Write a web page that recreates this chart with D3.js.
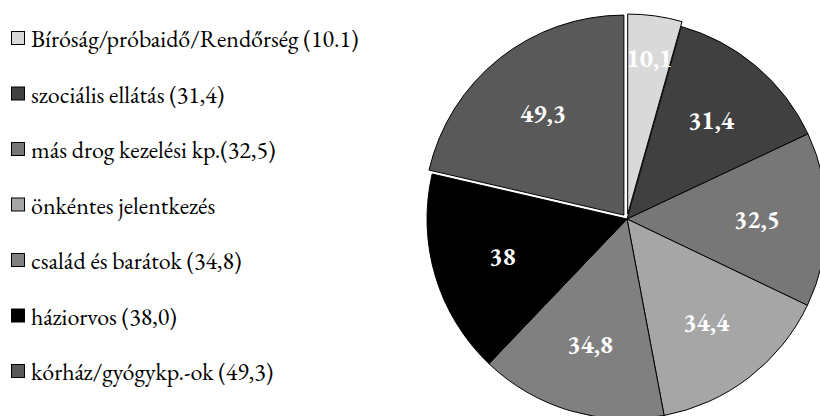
<!DOCTYPE html>
<html>
<head>
<meta charset="utf-8">
<script src="https://cdn.jsdelivr.net/npm/d3@7"></script>
<style>
  body { margin: 0; background: #fff; }
  svg { display: block; }
</style>
</head>
<body>
<svg id="chart"></svg>
<script>
const width = 820;
const height = 416;
const fontFace = "'EB Garamond'";

// slices, clockwise from 12 o'clock
const sliceLabels = ['10,1', '31,4', '32,5', '34,4', '34,8', '38', '49,3'];
const sliceValues = [10.1, 31.4, 32.5, 34.4, 34.8, 38.0, 49.3];
const sliceColors = ['#d9d9d9', '#404040', '#777777', '#a6a6a6', '#808080', '#000000', '#595959'];
const exploded = [true, false, false, false, false, false, true];

// legend, top to bottom
const legendNames = [
    'Bíróság/próbaidő/Rendőrség (10.1)',
    'szociális ellátás (31,4)',
    'más drog kezelési kp.(32,5)',
    'önkéntes jelentkezés',
    'család és barátok (34,8)',
    'háziorvos (38,0)',
    'kórház/gyógykp.-ok (49,3)'
];

const cx = 627, cy = 219, radius = 200;

const svg = d3.select('#chart')
    .attr('width', width)
    .attr('height', height);

const pieData = d3.pie().sort(null)(sliceValues)
    .map((d, i) => Object.assign(d, {i: i}));

const arc = d3.arc().innerRadius(0).outerRadius(radius);
const pieG = svg.append('g').attr('transform', `translate(${cx},${cy})`);

function offset(d, r) {
    const a = (d.startAngle + d.endAngle) / 2;
    return [Math.sin(a) * r, -Math.cos(a) * r];
}

pieG.selectAll('path')
    .data(pieData)
    .enter()
    .append('path')
    .attr('d', arc)
    .attr('transform', d => {
        const o = exploded[d.i] ? offset(d, 5) : [0, 0];
        return `translate(${o[0]},${o[1]})`;
    })
    .attr('fill', d => sliceColors[d.i])
    .attr('stroke', '#000')
    .attr('stroke-width', 1);

const labelR = d => (d.value < 15 ? 158 : 130) + (exploded[d.i] ? 5 : 0);

pieG.selectAll('text')
    .data(pieData)
    .enter()
    .append('text')
    .attr('x', d => offset(d, labelR(d))[0])
    .attr('y', d => offset(d, labelR(d))[1])
    .attr('text-anchor', 'middle')
    .attr('dominant-baseline', 'central')
    .style('font-family', fontFace)
    .style('font-feature-settings', '"lnum" 1')
    .style('font-weight', 'bold')
    .style('font-size', '25px')
    .attr('fill', '#fff')
    .text(d => sliceLabels[d.i]);

// legend
const legend = svg.append('g');
const rowY = d3.scalePoint().domain(d3.range(legendNames.length)).range([47, 380]);

const rows = legend.selectAll('g')
    .data(legendNames)
    .enter()
    .append('g')
    .attr('transform', (d, i) => `translate(0,${rowY(i)})`);

rows.append('rect')
    .attr('x', 11.5)
    .attr('y', -15.5)
    .attr('width', 13)
    .attr('height', 13)
    .attr('fill', (d, i) => sliceColors[i])
    .attr('stroke', '#000')
    .attr('stroke-width', 1);

rows.append('text')
    .attr('x', 31)
    .attr('y', 0)
    .style('font-family', fontFace)
    .style('font-feature-settings', '"lnum" 1')
    .style('font-size', '24px')
    .attr('fill', '#000')
    .text(d => d);
</script>
</body>
</html>
